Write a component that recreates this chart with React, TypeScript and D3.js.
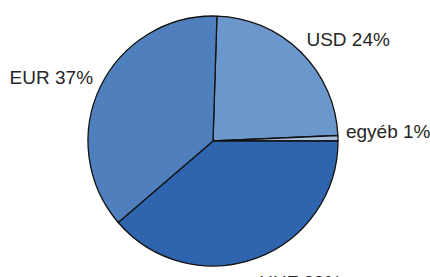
import { useEffect, useRef } from "react";
import * as d3 from "d3";

// currency share, clockwise from 12 o'clock
const currencies = ["USD", "egyéb", "HUF", "EUR"];
const shares = [23.8, 0.7, 38.7, 36.8];
const colors = ["#6b97cd", "#a8bfdd", "#2e65ae", "#4f80bd"];

function App() {
  const ref = useRef<SVGSVGElement | null>(null);

  useEffect(() => {
    const width = 430;
    const height = 277;
    const cx = 213;
    const cy = 141;
    const radius = 125;

    const svg = d3.select(ref.current);
    svg.selectAll("*").remove();

    const data = currencies.map((c, i) => ({ name: c, value: shares[i], color: colors[i] }));

    const startAngle = (1.8 * Math.PI) / 180;
    const pie = d3
      .pie<any>()
      .sort(null)
      .value((d) => d.value)
      .startAngle(startAngle)
      .endAngle(startAngle + 2 * Math.PI);

    const arc = d3.arc<any>().innerRadius(0).outerRadius(radius);

    const g = svg.append("g").attr("transform", `translate(${cx},${cy})`);

    g.selectAll("path")
      .data(pie(data))
      .enter()
      .append("path")
      .attr("d", arc)
      .attr("fill", (d) => d.data.color)
      .attr("stroke", "#111")
      .attr("stroke-width", 1.3)
      .attr("stroke-linejoin", "round");

    // labels just outside the rim
    const labelR = radius + 8;
    g.selectAll("text")
      .data(pie(data))
      .enter()
      .append("text")
      .attr("x", (d) => Math.sin((d.startAngle + d.endAngle) / 2) * labelR)
      .attr("y", (d) => {
        const a = (d.startAngle + d.endAngle) / 2;
        const c = Math.cos(a);
        return -c * labelR + (c < 0 ? -c * 25 : 0);
      })
      .attr("text-anchor", (d) =>
        Math.sin((d.startAngle + d.endAngle) / 2) >= 0 ? "start" : "end"
      )
      .attr("font-family", "Liberation Sans, Arial, sans-serif")
      .attr("font-size", 19)
      .attr("fill", "#262626")
      .text((d) => `${d.data.name} ${Math.round(d.data.value)}%`);

    svg.attr("width", width).attr("height", height);
  }, []);

  return (
    <svg
      ref={ref}
      width={430}
      height={277}
      style={{ position: "absolute", left: 0, top: 0, background: "#fff" }}
    />
  );
}

export default App;
